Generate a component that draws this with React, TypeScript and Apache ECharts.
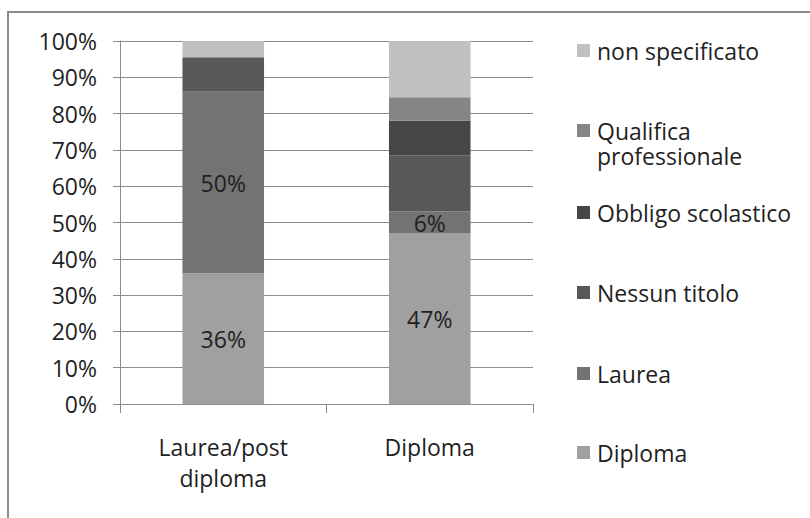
import React, { useEffect, useRef } from "react";
import * as echarts from "echarts";

const categories = ["Laurea/post\ndiploma", "Diploma"];
const seriesNames = [
  "Diploma",
  "Laurea",
  "Nessun titolo",
  "Obbligo scolastico",
  "Qualifica professionale",
  "non specificato",
];
const diploma = [36, 47];
const laurea = [50, 6];
const nessunTitolo = [9.5, 15.5];
const obbligo = [0, 9.5];
const qualifica = [0, 6.5];
const nonSpecificato = [4.5, 15.5];
const seriesValues = [diploma, laurea, nessunTitolo, obbligo, qualifica, nonSpecificato];
const seriesColors = ["#a0a0a0", "#737373", "#585858", "#464646", "#858585", "#c0c0c0"];
const showLabels = [true, true, false, false, false, false];

const FONT = "Open Sans";
const TEXT = "#1f1f1f";

export default function App() {
  const ref = useRef<HTMLDivElement>(null);
  useEffect(() => {
    document.body.style.margin = "0";
    const chart = echarts.init(ref.current!, null, { renderer: "svg" });
    const legendTopBySeries = [452 - 12, 373 - 12, 292 - 12, 212 - 12, 130 - 12, 50 - 12];
    const legends = seriesNames.map((name, i) => {
      const twoLine = name === "Qualifica professionale";
      const base: any = {
        show: true,
        orient: "vertical",
        left: 577,
        top: legendTopBySeries[i],
        padding: 0,
        icon: "rect",
        itemWidth: 13,
        itemHeight: 13,
        itemGap: 0,
        data: [name],
        formatter: (n: string) => (n === "Qualifica professionale" ? "Qualifica\nprofessionale" : n),
        textStyle: { fontFamily: FONT, fontSize: 23, color: TEXT, lineHeight: 25, padding: [0, 0, 0, 2] },
        selectedMode: false,
      };
      if (twoLine) base.itemStyle = { opacity: 0 };
      return base;
    });
    chart.setOption({
      animation: false,
      backgroundColor: "#ffffff",
      textStyle: { fontFamily: FONT },
      grid: { left: 120, right: 277, top: 41, bottom: 114, containLabel: false },
      legend: legends,
      graphic: [
        {
          type: "rect",
          shape: { x: 8, y: 12, width: 820, height: 530 },
          style: { fill: "none", stroke: "#8c8c8c", lineWidth: 2 },
          silent: true,
        },
        {
          type: "rect",
          shape: { x: 577, y: 124, width: 13, height: 13 },
          style: { fill: seriesColors[4] },
          silent: true,
        },
      ],
      xAxis: {
        type: "category",
        data: categories,
        axisLine: { lineStyle: { color: "#8c8c8c", width: 1 } },
        axisTick: { show: true, length: 9, lineStyle: { color: "#8c8c8c" } },
        axisLabel: {
          fontFamily: FONT,
          fontSize: 23,
          color: TEXT,
          lineHeight: 31,
          margin: 27,
        },
      },
      yAxis: {
        type: "value",
        min: 0,
        max: 100,
        interval: 10,
        axisLine: { show: true, lineStyle: { color: "#8c8c8c", width: 1 } },
        axisTick: { show: true, length: 7, lineStyle: { color: "#8c8c8c" } },
        splitLine: { show: true, lineStyle: { color: "#8c8c8c", width: 1 } },
        axisLabel: {
          formatter: "{value}%",
          fontFamily: FONT,
          fontSize: 23,
          color: TEXT,
          margin: 23,
        },
      },
      series: seriesNames.map((name, i) => ({
        name,
        type: "bar",
        stack: "total",
        barWidth: "39.5%",
        data: seriesValues[i],
        itemStyle: { color: seriesColors[i] },
        label: {
          show: showLabels[i],
          position: "inside",
          fontFamily: FONT,
          fontSize: 23,
          color: TEXT,
          formatter: (p: any) => `${Math.round(p.value)}%`,
        },
      })),
    });
    return () => chart.dispose();
  }, []);
  return <div ref={ref} style={{ width: 810, height: 518 }} />;
}
